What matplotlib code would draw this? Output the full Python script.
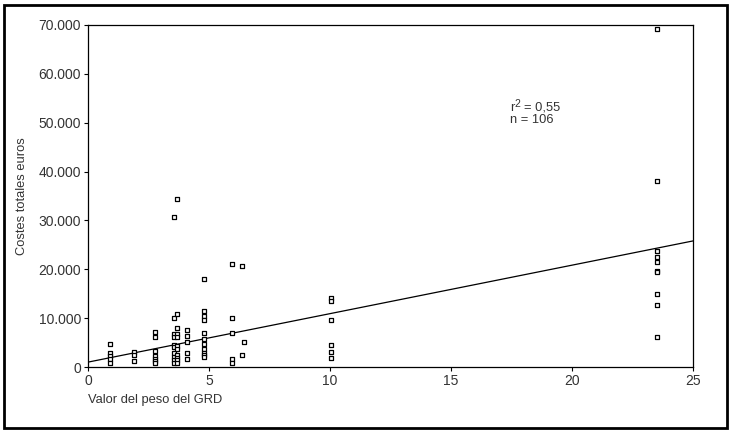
import matplotlib.pyplot as plt
import numpy as np
from matplotlib.ticker import FuncFormatter
from matplotlib.transforms import offset_copy

plt.rcParams['font.family'] = ['Liberation Sans', 'DejaVu Sans']

# peso GRD (x) y costes totales en euros (y)
peso = np.array([0.9]*5 + [1.9]*3 + [2.77]*7 + [3.55]*10 + [3.68]*11 + [4.09]*5
                + [4.79]*11 + [5.95]*5 + [6.36]*2 + [6.45] + [10.05]*6 + [23.5]*10)
costes = np.array([4650, 2800, 2200, 1640, 880,
                   3000, 2400, 1230,
                   7100, 6100, 3340, 2200, 1640, 1170, 760,
                   30700, 10100, 6700, 6100, 4500, 4150, 2800, 2100, 1400, 900,
                   34400, 10900, 8050, 6700, 6100, 4300, 3600, 2400, 1800, 1400, 900,
                   7630, 6280, 5050, 2930, 1700,
                   18000, 11500, 10500, 9700, 7000, 5800, 4770, 3600, 2930, 2400, 2050,
                   21100, 10100, 7000, 1570, 880,
                   20700, 2450,
                   5200,
                   14200, 13500, 9600, 4440, 3130, 1780,
                   69200, 38100, 23700, 22600, 21550, 19700, 19500, 14940, 12750, 6200])

# recta de regresion
intercepto = 1000
pendiente = 992

fig = plt.figure(figsize=(7.31, 4.33), dpi=100)
fig.patches.append(plt.Rectangle((0.006, 0.011), 0.988, 0.978, transform=fig.transFigure,
                                 fill=False, edgecolor='black', linewidth=2))
ax = fig.add_axes([0.1204, 0.1524, 0.8276, 0.79])

ax.scatter(peso, costes, marker='s', s=12, facecolors='white', edgecolors='black',
           linewidths=0.9, zorder=3)
xs = np.array([0, 25])
ax.plot(xs, intercepto + pendiente * xs, color='black', linewidth=0.9)

ax.set_xlim(0, 25)
ax.set_ylim(0, 70000)
ax.set_xticks([0, 5, 10, 15, 20, 25])
ax.set_yticks(np.arange(0, 70001, 10000))
ax.yaxis.set_major_formatter(FuncFormatter(lambda v, p: f'{int(v):,}'.replace(',', '.')))
ax.tick_params(direction='out', length=3, width=0.8, labelsize=10, colors='black',
               labelcolor='#333333', pad=2)
for s in ax.spines.values():
    s.set_linewidth(0.9)

ax.set_ylabel('Costes totales euros', fontsize=9.3, color='#333333')
ax.yaxis.set_label_coords(-0.1, 0.5)
ax.set_xlabel('Valor del peso del GRD', fontsize=9.3, color='#333333', loc='left')
ax.xaxis.set_label_coords(0.0, -0.08)

# anotacion r^2 y n
tx, ty = 17.45, 52400
ax.text(tx, ty, 'r', fontsize=9.3, color='#333333', va='baseline')
ax.text(tx, ty, '2', fontsize=7.5, color='#333333', va='baseline',
        transform=offset_copy(ax.transData, fig, x=4, y=4, units='dots'))
ax.text(tx, ty, '= 0,55', fontsize=9.3, color='#333333', va='baseline',
        transform=offset_copy(ax.transData, fig, x=14, y=0, units='dots'))
ax.text(tx, ty, 'n = 106', fontsize=9.3, color='#333333', va='baseline',
        transform=offset_copy(ax.transData, fig, x=0, y=-12, units='dots'))

fig.savefig('out.png', dpi=100)
